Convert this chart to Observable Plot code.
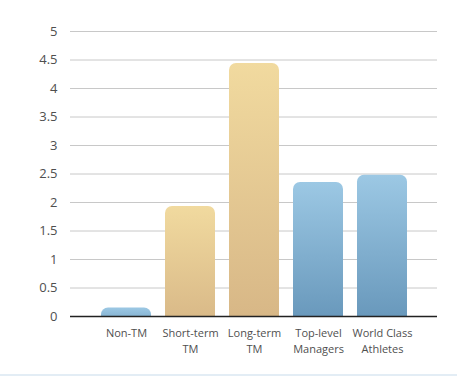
<!DOCTYPE html>
<html>
<head>
<meta charset="utf-8">
<script src="https://cdn.jsdelivr.net/npm/d3@7"></script>
<script src="https://cdn.jsdelivr.net/npm/@observablehq/plot@0.6"></script>
<style>
  html, body { margin: 0; padding: 0; background: #fff; }
  #wrap { width: 457px; height: 374px; border-bottom: 2px solid #e3edf5; overflow: hidden; }
  svg { display: block; }
</style>
</head>
<body>
<div id="wrap"></div>
<script>
const categories = ["Non-TM", "Short-term\nTM", "Long-term\nTM", "Top-level\nManagers", "World Class\nAthletes"];
const values = [0.15, 1.93, 4.44, 2.35, 2.48];
const groups = ["cool", "warm", "warm", "cool", "cool"];
const yTicks = [0, 0.5, 1, 1.5, 2, 2.5, 3, 3.5, 4, 4.5, 5];

const data = categories.map((c, i) => ({cat: c, value: values[i], group: groups[i]}));

const chart = Plot.plot({
  width: 457,
  height: 372,
  marginTop: 31,
  marginBottom: 56,
  marginLeft: 70,
  marginRight: 20,
  style: {fontFamily: "'Open Sans', Lato, sans-serif", color: "#4f4f4f", background: "#fff"},
  x: {domain: categories, paddingInner: 0.22, paddingOuter: 0.475, label: null},
  y: {domain: [0, 5], label: null},
  color: {type: "ordinal", domain: ["cool", "warm"], range: ["url(#gBlue)", "url(#gTan)"]},
  marks: [
    Plot.ruleY(yTicks.filter(t => t > 0), {stroke: "#c8c8c8", strokeWidth: 1}),
    Plot.barY(data, {x: "cat", y1: -0.3, y2: "value", fill: "group", rx: 7, clip: "frame"}),
    Plot.ruleY([0], {stroke: "#222", strokeWidth: 1.5}),
    Plot.ruleX([0], {frameAnchor: "left", stroke: "#222", strokeWidth: 1.5}),
    Plot.axisY({ticks: yTicks, tickSize: 0, tickPadding: 13, fontSize: 13, tickFormat: d => String(d), label: null}),
    Plot.axisX({tickSize: 0, tickPadding: 10, fontSize: 11, lineHeight: 1.4, label: null})
  ]
});

const svg = d3.select(chart);
const defs = svg.insert("defs", ":first-child");
const gT = defs.append("linearGradient").attr("id", "gTan").attr("x1", 0).attr("y1", 0).attr("x2", 0).attr("y2", 1);
gT.append("stop").attr("offset", "0%").attr("stop-color", "#f1da9f");
gT.append("stop").attr("offset", "100%").attr("stop-color", "#d6b585");
const gB = defs.append("linearGradient").attr("id", "gBlue").attr("x1", 0).attr("y1", 0).attr("x2", 0).attr("y2", 1);
gB.append("stop").attr("offset", "0%").attr("stop-color", "#9cc8e4");
gB.append("stop").attr("offset", "100%").attr("stop-color", "#6393b7");

document.getElementById("wrap").appendChild(chart);
</script>
</body>
</html>
